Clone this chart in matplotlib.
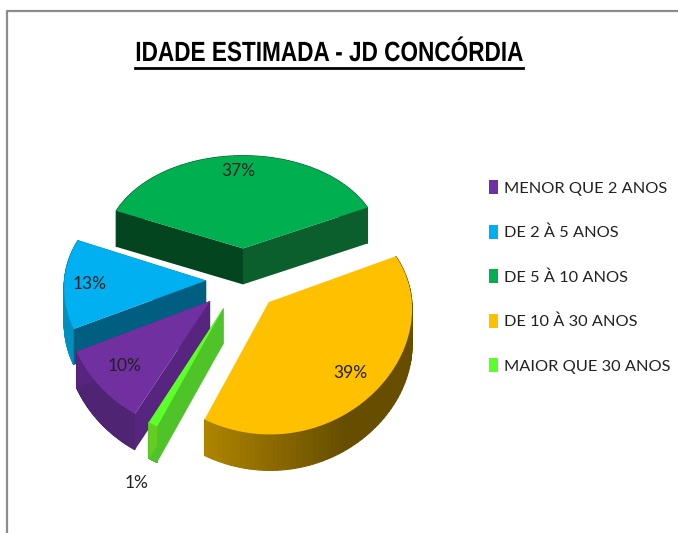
import numpy as np
import matplotlib
matplotlib.use('Agg')
import matplotlib.pyplot as plt
import matplotlib.patheffects as pe
from matplotlib.patches import Polygon, Patch
from matplotlib.colors import to_rgb
from matplotlib.transforms import Affine2D

plt.rcParams['font.family'] = ['Lato', 'DejaVu Sans']

categories = ['MENOR QUE 2 ANOS', 'DE 2 À 5 ANOS', 'DE 5 À 10 ANOS', 'DE 10 À 30 ANOS', 'MAIOR QUE 30 ANOS']
values = [10.0, 13.0, 37.0, 39.0, 1.0]
percent_labels = ['10%', '13%', '37%', '39%', '1%']
top_colors = ['#7030a0', '#00b0f0', '#00b050', '#ffc000', '#5cff2a']
cut_colors = ['#57257f', '#005f80', '#03451f', '#8a6500', '#4ec428']
back_cut_colors = ['#57257f', '#005f80', '#0a5f2d', '#8a6500', '#66cc20']
rim_colors = ['#4f2472', '#0090c0', '#0a5f2d', '#664d00', '#4ec428']
explode_u = [-0.23, -0.26, 0.0, 0.18, -0.135]
explode_v = [-0.14, 0.04, 0.34, -0.15, -0.198]
label_pos = [(125, 366), (90, 284), (238, 171), (350, 373), (137, 483)]
draw_order = [2, 1, 3, 0, 4]

CX, CY = 243, 285      # pie centre in pixels
RX, RY = 142, 112
PERSP_X, PERSP_Y = 0.05, 0.12
DEPTH = 36


class Squeeze(pe.AbstractPathEffect):
    # the title font in the chart is a narrow one, so squeeze a normal bold around x0
    def __init__(self, sx, x0):
        super().__init__()
        self.sx = sx
        self.x0 = x0

    def draw_path(self, renderer, gc, tpath, affine, rgbFace=None):
        squeeze = Affine2D().translate(-self.x0, 0).scale(self.sx, 1).translate(self.x0, 0)
        renderer.draw_path(gc, tpath, affine + squeeze, rgbFace)


def project(u, v):
    return CX + RX * u / (1 + PERSP_X * v), CY - RY * v / (1 + PERSP_Y * v)


def slice_angles():
    # clockwise, the big yellow slice starts at 24.5 deg
    shares = np.array(values) / sum(values) * 360
    ends = {}
    a = 24.5
    for i in [3, 4, 0, 1, 2]:
        ends[i] = (a, a - shares[i])
        a -= shares[i]
    return ends


def extrude(p, q):
    return [p, q, (q[0], q[1] + DEPTH), (p[0], p[1] + DEPTH)]


def draw_slice(i, z):
    a0, a1 = angles[i]
    t = np.radians(np.linspace(a0, a1, 80))
    rim = [project(explode_u[i] + np.cos(x), explode_v[i] + np.sin(x)) for x in t]
    apex = project(explode_u[i], explode_v[i])

    # outer wall first, cut faces go over it
    for k in range(len(rim) - 1):
        col = rim_colors[i]
        if i == 3:
            # yellow wall goes lighter towards its left end
            s = max(0.0, (k / (len(rim) - 1) - 0.6) / 0.4)
            col = np.array(to_rgb('#664d00')) * (1 - s) + np.array(to_rgb('#b08500')) * s
        ax.add_patch(Polygon(extrude(rim[k], rim[k + 1]), fc=col, ec=col, lw=0.8, zorder=z))
    if i != 3:  # yellow cut faces are hidden
        ax.add_patch(Polygon(extrude(apex, rim[-1]), fc=back_cut_colors[i], ec='none', zorder=z))
        ax.add_patch(Polygon(extrude(apex, rim[0]), fc=cut_colors[i], ec='none', zorder=z))
    ax.add_patch(Polygon([apex] + rim, fc=top_colors[i], ec='none', zorder=z + 0.5))


fig = plt.figure(figsize=(6.78, 5.33), dpi=100)
ax = fig.add_axes([0, 0, 1, 1])
ax.set_xlim(0, 678)
ax.set_ylim(533, 0)
ax.axis('off')

angles = slice_angles()
for rank, i in enumerate(draw_order):
    draw_slice(i, rank + 1)

for txt, (x, y) in zip(percent_labels, label_pos):
    ax.text(x, y, txt, fontsize=12.5, color='#222222', ha='center', va='center', zorder=20)

# title
ax.text(329, 54, 'IDADE ESTIMADA - JD CONCÓRDIA', fontsize=20, fontweight='bold',
        family=['Liberation Sans', 'DejaVu Sans'], color='black', ha='center', va='center',
        path_effects=[Squeeze(0.813, 329)])
ax.plot([135, 523], [68, 68], color='black', lw=2)

# legend
handles = [Patch(fc=c, ec='none') for c in top_colors]
ax.legend(handles, categories, loc='upper left', bbox_to_anchor=(489 / 678, 1 - 180 / 533),
          frameon=False, fontsize=11.8, handlelength=0.55, handleheight=0.95, handletextpad=0.37,
          labelspacing=1.76, borderpad=0, borderaxespad=0, labelcolor='#222222')

# chart frame
ax.plot([7, 7, 678], [533, 11, 11], color='#8c8c8c', lw=1.6)

fig.savefig('out.png', dpi=100)
